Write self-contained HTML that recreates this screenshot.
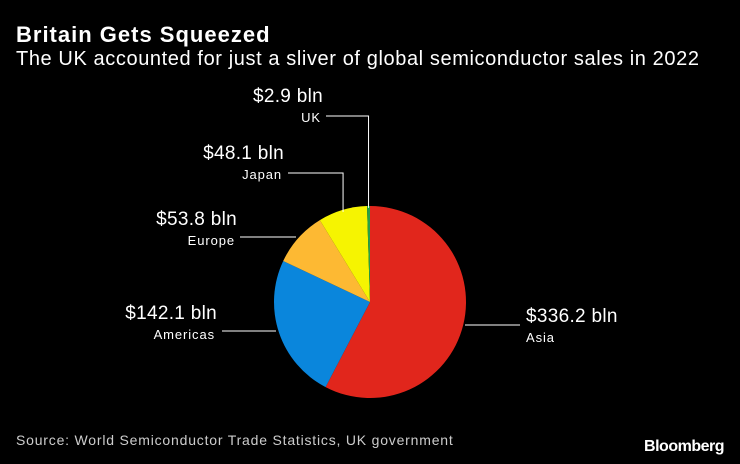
<!DOCTYPE html>
<html><head><meta charset="utf-8"><style>
body{margin:0;background:#000;}
#c{position:relative;width:740px;height:464px;background:#000;font-family:"Liberation Sans",sans-serif;color:#fff;overflow:hidden}
.t{position:absolute;white-space:nowrap}
</style></head><body>
<div id="c">
<div class="t" style="left:16px;top:22px;font-size:22px;font-weight:bold;letter-spacing:1px">Britain Gets Squeezed</div>
<div class="t" style="left:16px;top:48px;font-size:20px;letter-spacing:0.6px">The UK accounted for just a sliver of global semiconductor sales in 2022</div>
<svg id="pie" width="740" height="464" style="position:absolute;left:0;top:0"></svg>
<div class="t" style="left:16px;top:432px;font-size:14px;color:#ccc;letter-spacing:0.8px">Source: World Semiconductor Trade Statistics, UK government</div>
<div class="t" style="right:16px;top:438px;font-size:16px;font-weight:bold;letter-spacing:-0.5px">Bloomberg</div>
</div>
<script>
const categories=["Asia","Americas","Europe","Japan","UK"];
const values=[336.2,142.1,53.8,48.1,2.9];
const labels=["$336.2 bln","$142.1 bln","$53.8 bln","$48.1 bln","$2.9 bln"];
const colors=["#e1261c","#0a86dc","#fdb933","#f6f401","#26a148"];
const svg=document.getElementById('pie');
const NS='http://www.w3.org/2000/svg';
const cx=370,cy=302,r=96;
const total=values.reduce((a,b)=>a+b,0);
function pt(a,rr){return [cx+rr*Math.sin(a),cy-rr*Math.cos(a)];}
let a0=0;
const lay=[
 {side:'r',lx:526,ly:316,y:325,x1:465,x2:520},
 {side:'l',lx:217,ly:313,y:331,x1:222,x2:276},
 {side:'l',lx:237,ly:219,y:237,x1:240,x2:296},
 {side:'l',lx:284,ly:153,y:173,x1:288,x2:342,down:true},
 {side:'l',lx:323,ly:96,y:116,x1:326,x2:368,down:true}
];
values.forEach((v,i)=>{
 const a1=a0+v/total*2*Math.PI;
 const p0=pt(a0,r),p1=pt(a1,r);
 const path=document.createElementNS(NS,'path');
 path.setAttribute('d',`M${cx},${cy}L${p0[0]},${p0[1]}A${r},${r} 0 ${a1-a0>Math.PI?1:0} 1 ${p1[0]},${p1[1]}Z`);
 path.setAttribute('fill',colors[i]);
 
 
 svg.appendChild(path);
 const L=lay[i];
 const mid=(a0+a1)/2;
 const ln=document.createElementNS(NS,'polyline');
 let pts;
 if(L.down){const pe=pt(mid,r*0.98);pts=`${L.x1},${L.y} ${pe[0]},${L.y} ${pe[0]},${pe[1]}`;}
 else pts=`${L.x1},${L.y} ${L.x2},${L.y}`;
 ln.setAttribute('points',pts);
 ln.setAttribute('fill','none');ln.setAttribute('stroke','#fff');ln.setAttribute('stroke-width','1');
 
 
 svg.appendChild(ln);
 const anchor=L.side==='r'?'start':'end';
 const t1=document.createElementNS(NS,'text');
 t1.setAttribute('x',L.lx);t1.setAttribute('y',L.ly+6);t1.setAttribute('text-anchor',anchor);
 t1.setAttribute('fill','#fff');t1.setAttribute('font-size','19');t1.setAttribute('letter-spacing','0.3');t1.setAttribute('font-family','Liberation Sans, sans-serif');
 t1.textContent=labels[i];
 
 
 svg.appendChild(t1);
 const t2=document.createElementNS(NS,'text');
 t2.setAttribute('x',L.side==='r'?L.lx:L.lx-2);t2.setAttribute('y',L.ly+26);t2.setAttribute('text-anchor',anchor);
 t2.setAttribute('fill','#fff');t2.setAttribute('font-size','13');t2.setAttribute('letter-spacing','0.9');t2.setAttribute('font-family','Liberation Sans, sans-serif');
 t2.textContent=categories[i];
 
 
 svg.appendChild(t2);
 a0=a1;
});
</script>
</body></html>
